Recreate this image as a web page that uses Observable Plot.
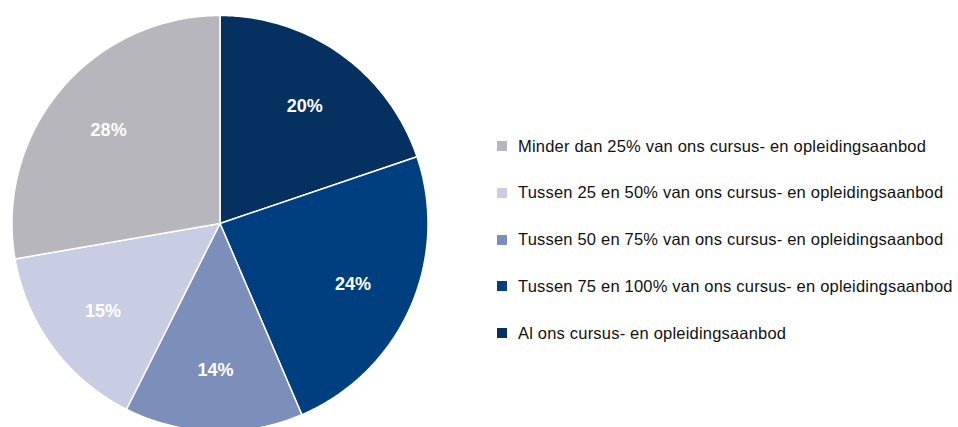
<!DOCTYPE html>
<html>
<head>
<meta charset="utf-8">
<script src="https://cdn.jsdelivr.net/npm/d3@7"></script>
<script src="https://cdn.jsdelivr.net/npm/@observablehq/plot@0.6"></script>
<style>
  html, body { margin: 0; padding: 0; background: #fff; overflow: hidden; }
  #wrap { position: relative; width: 958px; height: 427px; }
  #legend { position: absolute; left: 497px; top: 136px; font-family: "Liberation Sans", Arial, sans-serif; font-size: 16.5px; letter-spacing: 0.2px; color: #111; }
  .row { display: flex; align-items: center; height: 20px; margin-bottom: 26.8px; }
  .sw { width: 10px; height: 10px; margin-right: 11px; flex: none; }
</style>
</head>
<body>
<div id="wrap"><div id="chart"></div><div id="legend"></div></div>
<script>
// Slices in clockwise order starting at 12 o'clock
const categories = [
  "Al ons cursus- en opleidingsaanbod",
  "Tussen 75 en 100% van ons cursus- en opleidingsaanbod",
  "Tussen 50 en 75% van ons cursus- en opleidingsaanbod",
  "Tussen 25 en 50% van ons cursus- en opleidingsaanbod",
  "Minder dan 25% van ons cursus- en opleidingsaanbod"
];
const values = [20, 24, 14, 15, 28];
const colors = ["#06305f", "#003f7f", "#7b8fba", "#c8cde3", "#b7b6bc"];
// Legend order (top to bottom)
const legendOrder = [
  "Minder dan 25% van ons cursus- en opleidingsaanbod",
  "Tussen 25 en 50% van ons cursus- en opleidingsaanbod",
  "Tussen 50 en 75% van ons cursus- en opleidingsaanbod",
  "Tussen 75 en 100% van ons cursus- en opleidingsaanbod",
  "Al ons cursus- en opleidingsaanbod"
];

const pie = d3.pie().sort(null).value(d => d.value);
const arcs = pie(categories.map((c, i) => ({category: c, value: values[i]})));

// Build slice outlines in unit data coordinates (y up, angle clockwise from top)
const slicePts = [];
const labels = [];
arcs.forEach(a => {
  const cat = a.data.category;
  slicePts.push({cat, x: 0, y: 0});
  const n = Math.max(2, Math.ceil((a.endAngle - a.startAngle) / 0.01));
  for (let k = 0; k <= n; k++) {
    const t = a.startAngle + (a.endAngle - a.startAngle) * k / n;
    slicePts.push({cat, x: Math.sin(t), y: Math.cos(t)});
  }
  slicePts.push({cat, x: 0, y: 0});
  const m = (a.startAngle + a.endAngle) / 2;
  labels.push({cat, x: 0.7 * Math.sin(m), y: 0.7 * Math.cos(m), text: a.data.value + "%"});
});

const cx = 219.5, cy = 223, R = 208;
const chart = Plot.plot({
  width: 958,
  height: 427,
  margin: 0,
  x: {domain: [-1, 1], range: [cx - R, cx + R], axis: null},
  y: {domain: [-1, 1], range: [cy + R, cy - R], axis: null},
  color: {domain: categories, range: colors},
  style: {fontFamily: "'Liberation Sans', Arial, sans-serif", background: "white", overflow: "hidden"},
  marks: [
    Plot.line(slicePts, {x: "x", y: "y", z: "cat", fill: "cat", stroke: "white", strokeWidth: 1.5, strokeLinejoin: "round", curve: "linear"}),
    Plot.text(labels, {x: "x", y: "y", text: "text", fill: "white", fontSize: 18, fontWeight: "bold", dy: 1})
  ]
});
document.getElementById("chart").appendChild(chart);

const scale = chart.scale("color");
const leg = d3.select("#legend");
legendOrder.forEach(c => {
  const row = leg.append("div").attr("class", "row");
  row.append("div").attr("class", "sw").style("background", scale.apply(c));
  row.append("span").text(c);
});
</script>
</body>
</html>
